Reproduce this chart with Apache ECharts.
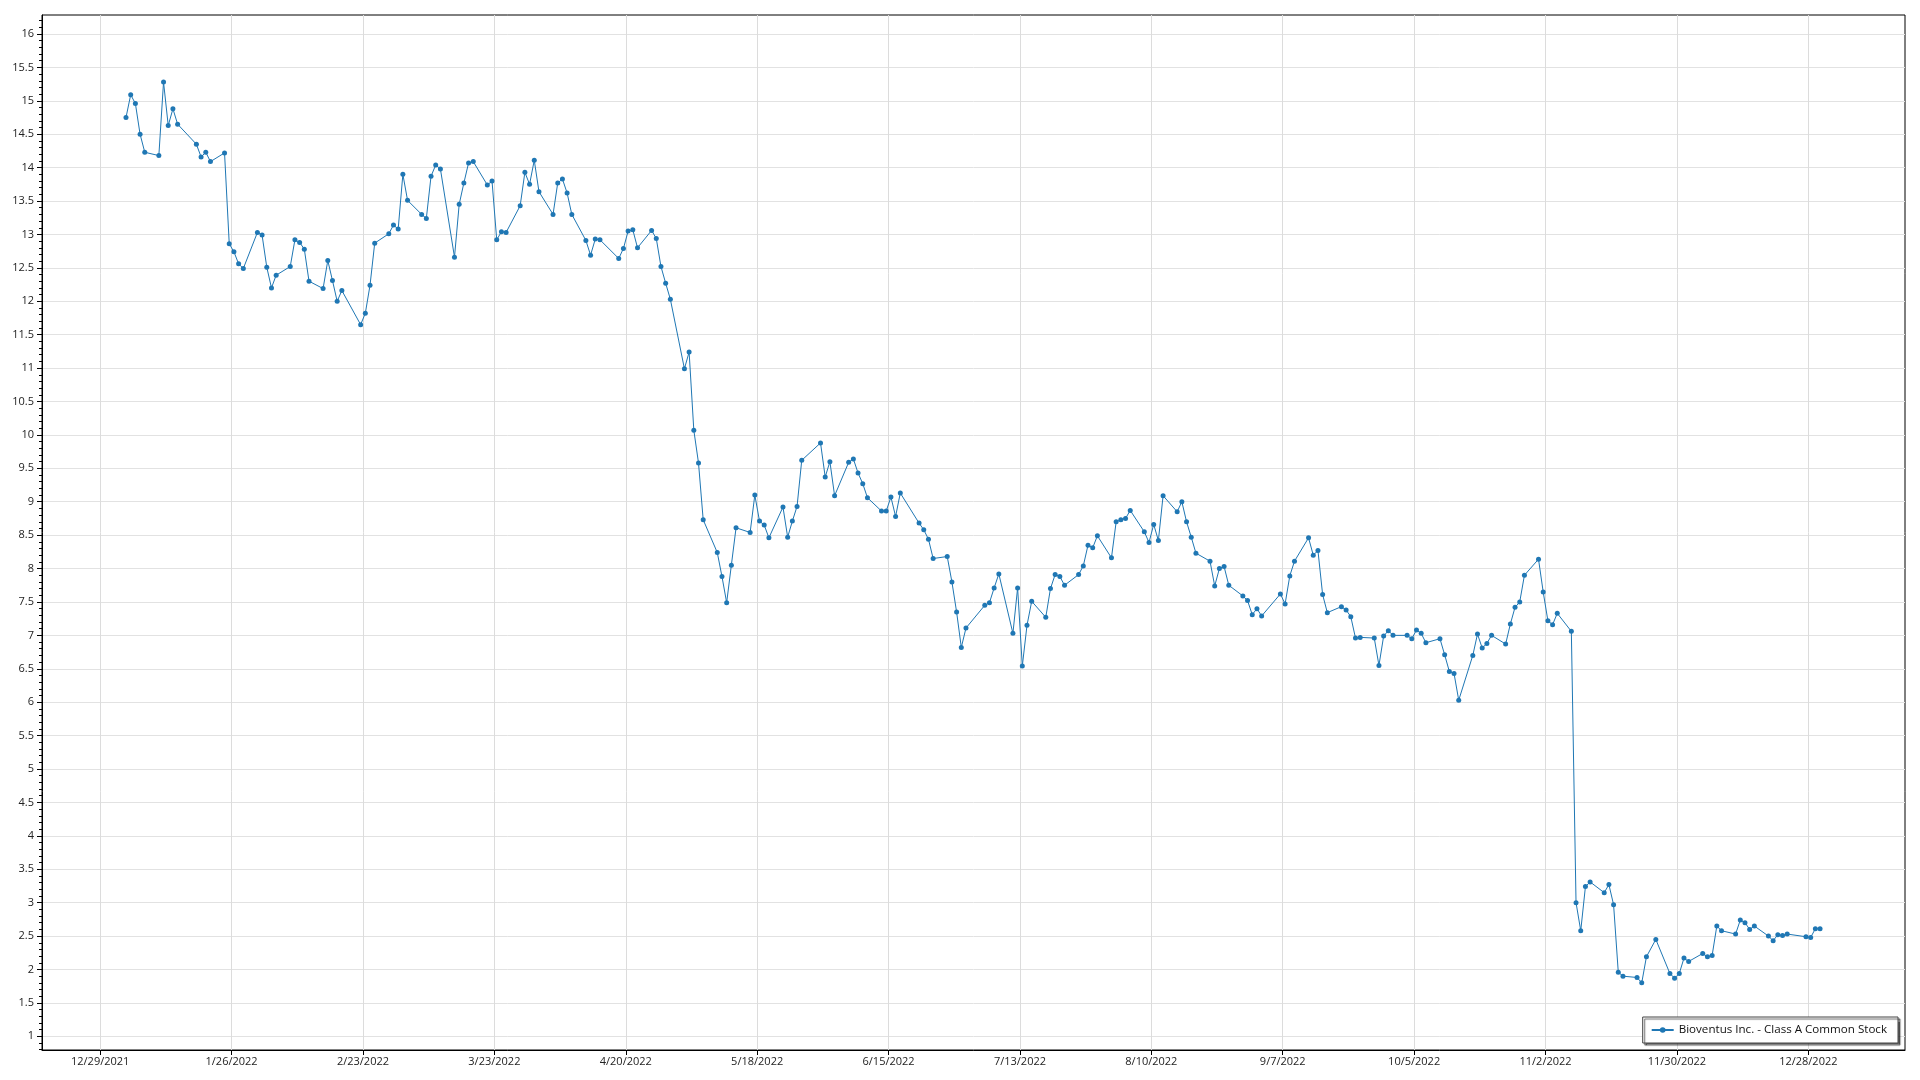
<!DOCTYPE html>
<html><head><meta charset="utf-8">
<script src="https://cdn.jsdelivr.net/npm/echarts/dist/echarts.min.js"></script>
<style>html,body{margin:0;padding:0;background:#fff;}#chart{width:1920px;height:1080px;}</style>
</head><body><div id="chart"></div>
<script>
const seriesName = 'Bioventus Inc. - Class A Common Stock';

const xTickLabels = ['12/29/2021','1/26/2022','2/23/2022','3/23/2022','4/20/2022','5/18/2022','6/15/2022',
  '7/13/2022','8/10/2022','9/7/2022','10/5/2022','11/2/2022','11/30/2022','12/28/2022'];

const yTickValues = [1,1.5,2,2.5,3,3.5,4,4.5,5,5.5,6,6.5,7,7.5,8,8.5,9,9.5,10,10.5,11,11.5,12,12.5,13,13.5,14,14.5,15,15.5,16];

const dates = [
 '2022-01-03','2022-01-04','2022-01-05','2022-01-06','2022-01-07','2022-01-10','2022-01-11','2022-01-12','2022-01-13','2022-01-14',
 '2022-01-18','2022-01-19','2022-01-20','2022-01-21','2022-01-24','2022-01-25','2022-01-26','2022-01-27','2022-01-28','2022-01-31',
 '2022-02-01','2022-02-02','2022-02-03','2022-02-04','2022-02-07','2022-02-08','2022-02-09','2022-02-10','2022-02-11','2022-02-14',
 '2022-02-15','2022-02-16','2022-02-17','2022-02-18','2022-02-22','2022-02-23','2022-02-24','2022-02-25','2022-02-28',
 '2022-03-01','2022-03-02','2022-03-03','2022-03-04','2022-03-07','2022-03-08','2022-03-09','2022-03-10','2022-03-11','2022-03-14',
 '2022-03-15','2022-03-16','2022-03-17','2022-03-18','2022-03-21','2022-03-22','2022-03-23','2022-03-24','2022-03-25','2022-03-28',
 '2022-03-29','2022-03-30','2022-03-31',
 '2022-04-01','2022-04-04','2022-04-05','2022-04-06','2022-04-07','2022-04-08','2022-04-11','2022-04-12','2022-04-13','2022-04-14',
 '2022-04-18','2022-04-19','2022-04-20','2022-04-21','2022-04-22','2022-04-25','2022-04-26','2022-04-27','2022-04-28','2022-04-29',
 '2022-05-02','2022-05-03','2022-05-04','2022-05-05','2022-05-06','2022-05-09','2022-05-10','2022-05-11','2022-05-12','2022-05-13',
 '2022-05-16','2022-05-17','2022-05-18','2022-05-19','2022-05-20','2022-05-23','2022-05-24','2022-05-25','2022-05-26','2022-05-27',
 '2022-05-31',
 '2022-06-01','2022-06-02','2022-06-03','2022-06-06','2022-06-07','2022-06-08','2022-06-09','2022-06-10','2022-06-13','2022-06-14',
 '2022-06-15','2022-06-16','2022-06-17','2022-06-21','2022-06-22','2022-06-23','2022-06-24','2022-06-27','2022-06-28','2022-06-29',
 '2022-06-30',
 '2022-07-01','2022-07-05','2022-07-06','2022-07-07','2022-07-08','2022-07-11','2022-07-12','2022-07-13','2022-07-14','2022-07-15',
 '2022-07-18','2022-07-19','2022-07-20','2022-07-21','2022-07-22','2022-07-25','2022-07-26','2022-07-27','2022-07-28','2022-07-29',
 '2022-08-01','2022-08-02','2022-08-03','2022-08-04','2022-08-05','2022-08-08','2022-08-09','2022-08-10','2022-08-11','2022-08-12',
 '2022-08-15','2022-08-16','2022-08-17','2022-08-18','2022-08-19','2022-08-22','2022-08-23','2022-08-24','2022-08-25','2022-08-26',
 '2022-08-29','2022-08-30','2022-08-31',
 '2022-09-01','2022-09-02','2022-09-06','2022-09-07','2022-09-08','2022-09-09','2022-09-12','2022-09-13','2022-09-14','2022-09-15',
 '2022-09-16','2022-09-19','2022-09-20','2022-09-21','2022-09-22','2022-09-23','2022-09-26','2022-09-27','2022-09-28','2022-09-29',
 '2022-09-30',
 '2022-10-03','2022-10-04','2022-10-05','2022-10-06','2022-10-07','2022-10-10','2022-10-11','2022-10-12','2022-10-13','2022-10-14',
 '2022-10-17','2022-10-18','2022-10-19','2022-10-20','2022-10-21','2022-10-24','2022-10-25','2022-10-26','2022-10-27','2022-10-28',
 '2022-10-31',
 '2022-11-01','2022-11-02','2022-11-03','2022-11-04','2022-11-07','2022-11-08','2022-11-09','2022-11-10','2022-11-11','2022-11-14',
 '2022-11-15','2022-11-16','2022-11-17','2022-11-18','2022-11-21','2022-11-22','2022-11-23','2022-11-25','2022-11-28','2022-11-29',
 '2022-11-30',
 '2022-12-01','2022-12-02','2022-12-05','2022-12-06','2022-12-07','2022-12-08','2022-12-09','2022-12-12','2022-12-13','2022-12-14',
 '2022-12-15','2022-12-16','2022-12-19','2022-12-20','2022-12-21','2022-12-22','2022-12-23','2022-12-27','2022-12-28','2022-12-29',
 '2022-12-30'
];

const prices = [
 14.75,15.09,14.96,14.50,14.23,14.18,15.28,14.63,14.88,14.65,
 14.35,14.16,14.23,14.09,14.22,12.86,12.74,12.56,12.49,13.03,
 12.99,12.51,12.20,12.39,12.52,12.92,12.88,12.78,12.30,12.19,
 12.61,12.31,12.00,12.16,11.65,11.82,12.24,12.87,13.01,
 13.14,13.08,13.90,13.51,13.30,13.24,13.87,14.04,13.98,12.66,
 13.45,13.77,14.07,14.09,13.74,13.80,12.92,13.04,13.03,13.43,
 13.93,13.75,14.11,
 13.64,13.30,13.77,13.83,13.62,13.30,12.91,12.69,12.93,12.92,
 12.64,12.79,13.05,13.07,12.80,13.06,12.94,12.52,12.27,12.03,
 10.99,11.24,10.07,9.58,8.73,8.24,7.88,7.49,8.05,8.61,
 8.54,9.10,8.71,8.65,8.46,8.92,8.47,8.71,8.93,9.62,
 9.88,
 9.37,9.60,9.09,9.59,9.64,9.43,9.27,9.06,8.86,8.86,
 9.07,8.78,9.13,8.68,8.58,8.44,8.15,8.18,7.80,7.35,
 6.82,
 7.11,7.45,7.49,7.71,7.92,7.03,7.71,6.54,7.15,7.51,
 7.27,7.70,7.91,7.88,7.75,7.91,8.04,8.35,8.31,8.49,
 8.16,8.70,8.73,8.75,8.87,8.55,8.39,8.66,8.42,9.09,
 8.85,9.00,8.70,8.47,8.23,8.11,7.74,8.00,8.03,7.75,
 7.59,7.52,7.31,
 7.40,7.29,7.62,7.47,7.89,8.11,8.46,8.20,8.27,7.61,
 7.34,7.43,7.38,7.28,6.96,6.97,6.96,6.55,6.99,7.07,
 7.00,
 7.00,6.95,7.08,7.03,6.89,6.95,6.71,6.46,6.43,6.03,
 6.70,7.02,6.81,6.88,7.00,6.87,7.17,7.42,7.50,7.90,
 8.14,
 7.65,7.22,7.16,7.33,7.06,3.00,2.58,3.24,3.31,3.15,
 3.27,2.97,1.96,1.90,1.88,1.80,2.19,2.45,1.94,1.87,
 1.94,
 2.17,2.12,2.24,2.19,2.21,2.65,2.58,2.53,2.74,2.70,
 2.60,2.65,2.50,2.43,2.52,2.51,2.53,2.49,2.48,2.61,
 2.61
];

const EPOCH = Date.UTC(2021, 11, 29);
function dayNum(y, m, d) { return (Date.UTC(y, m - 1, d) - EPOCH) / 86400000; }
function parseMDY(s) { const p = s.split('/').map(Number); return dayNum(p[2], p[0], p[1]); }
function parseISO(s) { const p = s.split('-').map(Number); return dayNum(p[0], p[1], p[2]); }

const xTickValues = xTickLabels.map(parseMDY);
const labelByDay = {};
xTickLabels.forEach((l, i) => { labelByDay[xTickValues[i]] = l; });
// points stamped at noon of each trading day
const points = dates.map((d, i) => [parseISO(d) + 0.5, prices[i]]);

const FONT = "'Open Sans', 'Noto Sans', sans-serif";
const chart = echarts.init(document.getElementById('chart'), null, { renderer: 'canvas' });
chart.setOption({
  animation: false,
  backgroundColor: '#fff',
  textStyle: { fontFamily: FONT },
  grid: { left: 42, right: 15, top: 15, bottom: 30, show: true, borderColor: '#000', borderWidth: 1, backgroundColor: 'transparent' },
  xAxis: {
    type: 'value', min: -12.4, max: 384.6,
    axisLine: { show: true, onZero: false, lineStyle: { color: '#000', width: 1 } },
    axisTick: { show: true, customValues: xTickValues, length: 5, lineStyle: { color: '#000' } },
    axisLabel: { customValues: xTickValues, formatter: v => labelByDay[v] || '', margin: 6, color: '#222', fontSize: 11, fontFamily: FONT },
    splitLine: { show: true, lineStyle: { color: '#dcdcdc', width: 1 } }
  },
  yAxis: {
    type: 'value', min: 0.795, max: 16.284, splitNumber: 31,
    axisLine: { show: true, onZero: false, lineStyle: { color: '#000', width: 1 } },
    axisTick: { show: true, customValues: yTickValues, length: 5, lineStyle: { color: '#000' } },
    minorTick: { show: true, splitNumber: 5, length: 3, lineStyle: { color: '#000' } },
    axisLabel: { customValues: yTickValues, margin: 8, color: '#222', fontSize: 11, fontFamily: FONT },
    splitLine: { show: true, lineStyle: { color: '#e2e2e2', width: 1 } }
  },
  legend: {
    data: [seriesName], right: 22, bottom: 37, orient: 'horizontal',
    backgroundColor: '#fff', borderColor: '#444', borderWidth: 1, borderRadius: 0,
    padding: [6, 11, 6, 8], itemWidth: 22, itemHeight: 7, itemGap: 5,
    shadowColor: 'rgba(0,0,0,0.6)', shadowOffsetX: 2, shadowOffsetY: 2, shadowBlur: 1,
    textStyle: { fontSize: 11.6, lineHeight: 14, color: '#111', fontFamily: FONT }
  },
  series: [{
    type: 'line', name: seriesName, data: points,
    showSymbol: true, symbol: 'circle', symbolSize: 5,
    lineStyle: { color: '#1f77b4', width: 1 },
    itemStyle: { color: '#1f77b4' },
    emphasis: { disabled: true }
  }]
});
</script></body></html>
